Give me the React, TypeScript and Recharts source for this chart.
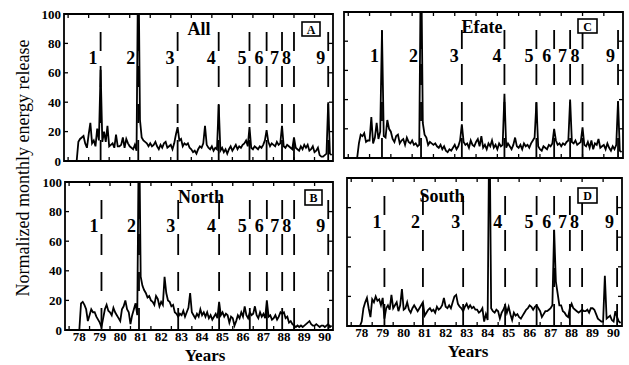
import React from 'react';
import { LineChart, Line, XAxis, YAxis, ReferenceLine, ReferenceArea, ReferenceDot } from 'recharts';

const SERIF = "'Liberation Serif', 'Times New Roman', Times, serif";

// monthly samples, Jan 1978 onwards (155 months)
const allValues = [
  0, 0, 0, 0, 0, 0, 13, 15, 16, 17, 12, 9,
  18, 26, 12, 14, 10, 22, 14, 62, 13, 20, 13, 24,
  10, 11, 12, 9, 18, 10, 10, 11, 16, 9, 15, 12,
  10, 9, 8, 11, 7, 150, 28, 16, 14, 13, 12, 10,
  12, 10, 11, 13, 10, 8, 11, 9, 12, 13, 9, 10,
  11, 8, 12, 18, 23, 14, 15, 10, 12, 11, 12, 9,
  8, 6, 7, 5, 8, 10, 9, 12, 24, 11, 9, 8,
  10, 7, 9, 8, 38, 7, 9, 6, 8, 5, 8, 10,
  7, 9, 11, 8, 10, 9, 11, 12, 14, 10, 23, 9,
  8, 10, 9, 8, 10, 9, 11, 14, 21, 13, 10, 12,
  11, 10, 13, 11, 12, 24, 10, 9, 11, 10, 9, 8,
  16, 9, 8, 7, 10, 8, 11, 9, 11, 7, 8, 10,
  6, 7, 9, 4, 3, 3, 4, 5, 40, 5, 4,
];

const efateValues = [
  0, 0, 0, 0, 0, 0, 10, 16, 15, 17, 11, 12,
  12, 28, 10, 14, 24, 13, 18, 87, 15, 14, 26, 20,
  18, 13, 11, 15, 16, 10, 12, 13, 9, 14, 11, 10,
  12, 9, 10, 8, 9, 150, 24, 16, 14, 9, 11, 10,
  9, 10, 8, 7, 9, 6, 8, 5, 4, 6, 5, 7,
  9, 6, 8, 12, 23, 11, 9, 10, 7, 12, 9, 8,
  11, 13, 8, 15, 7, 9, 6, 10, 8, 12, 7, 9,
  6, 10, 8, 9, 44, 7, 10, 8, 6, 9, 14, 8,
  7, 9, 6, 10, 8, 9, 7, 10, 12, 14, 38, 8,
  6, 5, 8, 7, 6, 9, 8, 10, 20, 12, 9, 10,
  8, 10, 9, 11, 12, 40, 11, 10, 12, 9, 10, 11,
  21, 9, 8, 11, 7, 12, 6, 10, 9, 13, 7, 8,
  9, 6, 10, 7, 5, 8, 6, 9, 39, 5, 4,
];

const northValues = [
  0, 0, 0, 0, 0, 0, 0, 18, 19, 17, 14, 6,
  10, 14, 12, 12, 9, 7, 5, 2, 8, 14, 17, 13,
  12, 10, 15, 12, 10, 8, 6, 14, 16, 20, 14, 12,
  4, 10, 14, 18, 10, 150, 36, 30, 27, 25, 22, 23,
  20, 19, 17, 23, 21, 16, 19, 17, 36, 25, 20, 19,
  16, 17, 12, 11, 9, 11, 10, 13, 9, 12, 15, 25,
  12, 10, 8, 11, 9, 14, 10, 12, 9, 12, 8, 10,
  7, 9, 11, 8, 19, 10, 12, 9, 11, 10, 5, 9,
  8, 3, 6, 10, 8, 12, 9, 16, 10, 8, 12, 10,
  11, 16, 10, 8, 12, 9, 11, 8, 20, 9, 10, 7,
  8, 10, 7, 9, 12, 11, 12, 8, 9, 5, 6, 4,
  3, 2, 3, 2, 3, 2, 3, 4, 5, 6, 4, 3,
  3, 4, 3, 2, 3, 3, 2, 3, 4, 2, 3,
];

const southValues = [
  0, 0, 0, 0, 0, 0, 3, 12, 16, 19, 12, 6,
  18, 16, 20, 17, 18, 14, 19, 5, 12, 14, 11, 21,
  12, 14, 16, 10, 14, 25, 11, 12, 16, 11, 9, 12,
  14, 12, 10, 12, 14, 16, 7, 9, 11, 12, 10, 11,
  9, 13, 11, 12, 14, 19, 13, 12, 14, 12, 16, 20,
  21, 15, 13, 12, 10, 13, 15, 12, 14, 12, 13, 11,
  11, 9, 10, 12, 3, 8, 4, 150, 12, 10, 9, 11,
  10, 5, 9, 11, 14, 9, 13, 8, 4, 9, 7, 8,
  6, 5, 7, 9, 11, 12, 14, 13, 11, 13, 14, 12,
  10, 6, 8, 10, 10, 11, 12, 14, 65, 30, 22, 14,
  14, 10, 9, 7, 6, 12, 15, 12, 11, 10, 9, 10,
  11, 10, 10, 11, 9, 12, 12, 11, 8, 5, 4, 3,
  3, 34, 5, 6, 7, 4, 3, 10, 6, 3, 2,
];

const eventYears = [79.583, 81.417, 83.333, 85.333, 86.833, 87.667, 88.417, 89.0, 90.667];
const eventLabels = ['1', '2', '3', '4', '5', '6', '7', '8', '9'];

const yearTicks = [78.5, 79.5, 80.5, 81.5, 82.5, 83.5, 84.5, 85.5, 86.5, 87.5, 88.5, 89.5, 90.5];
const yearLabels = ['78', '79', '80', '81', '82', '83', '84', '85', '86', '87', '88', '89', '90'];
const valueTicks = [0, 20, 40, 60, 80, 100];

const X_MIN = 77.8;
const X_MAX = 90.9;

interface Box { left: number; top: number; right: number; bottom: number }

interface PanelProps {
  values: number[];
  box: Box;
  showX: boolean;
  showY: boolean;
}

function Panel({ values, box, showX, showY }: PanelProps) {
  const data = values.map((v, i) => ({ t: 78 + i / 12, v }));
  const plotW = box.right - box.left;
  const plotH = box.bottom - box.top;
  const half = plotW / (X_MAX - X_MIN) / 2;

  const xTick = (props: any) => {
    const { x, index } = props;
    const y = box.bottom;
    const bx = x - half;
    return (
      <g>
        <line x1={bx} y1={y} x2={bx} y2={y - 4} stroke="#000" strokeWidth={1.3} />
        <line x1={bx} y1={y - plotH} x2={bx} y2={y - plotH + 4} stroke="#000" strokeWidth={1.3} />
        {showX && (
          <text x={x} y={y + 11} textAnchor="middle" fontFamily={SERIF} fontSize={13} fontWeight="bold" fill="#000">
            {yearLabels[index]}
          </text>
        )}
      </g>
    );
  };

  const yTick = (props: any) => {
    const { y, payload } = props;
    const x = box.left;
    return (
      <g>
        <line x1={x} y1={y} x2={x + 4} y2={y} stroke="#000" strokeWidth={1.3} />
        <line x1={x + plotW - 4} y1={y} x2={x + plotW} y2={y} stroke="#000" strokeWidth={1.3} />
        {showY && (
          <text x={x - 3} y={y + 4.5} textAnchor="end" fontFamily={SERIF} fontSize={13} fontWeight="bold" fill="#000">
            {payload.value}
          </text>
        )}
      </g>
    );
  };

  return (
    <div style={{ position: 'absolute', left: 0, top: 0 }}>
      <LineChart
        width={629}
        height={365}
        data={data}
        margin={{ left: box.left - 20, top: box.top, right: 629 - box.right, bottom: 365 - box.bottom - 20 }}
      >
        <XAxis
          dataKey="t"
          type="number"
          domain={[X_MIN, X_MAX]}
          allowDataOverflow
          ticks={yearTicks}
          interval={0}
          height={20}
          axisLine={false}
          tickLine={false}
          tick={xTick}
        />
        <YAxis
          type="number"
          domain={[0, 100]}
          allowDataOverflow
          ticks={valueTicks}
          interval={0}
          width={20}
          axisLine={false}
          tickLine={false}
          tick={yTick}
        />
        <ReferenceArea x1={X_MIN} x2={X_MAX} y1={0} y2={100} fill="none" stroke="#000" strokeWidth={1.8} />
        {eventYears.map((e) => (
          <ReferenceLine
            key={'ev' + e}
            segment={[{ x: e, y: 100 }, { x: e, y: 0 }]}
            stroke="#000"
            strokeWidth={1.8}
            strokeDasharray="0 18 19 15 21 17 19 17 40"
          />
        ))}
        {eventYears.map((e, k) => (
          <ReferenceDot
            key={'lb' + e}
            x={e}
            y={70}
            r={1}
            shape={(p: any) => (
              <text
                x={p.cx - 3}
                y={p.cy + 6}
                textAnchor="end"
                fontFamily={SERIF}
                fontSize={18}
                fontWeight="bold"
                fill="#000"
              >
                {eventLabels[k]}
              </text>
            )}
          />
        ))}
        <Line
          type="linear"
          dataKey="v"
          stroke="#000"
          strokeWidth={1.8}
          dot={false}
          isAnimationActive={false}
        />
      </LineChart>
    </div>
  );
}

function LetterBox({ x, y, w, h, letter }: { x: number; y: number; w: number; h: number; letter: string }) {
  return (
    <g>
      <rect x={x} y={y} width={w} height={h} fill="#fff" stroke="#000" strokeWidth={1.6} />
      <text
        x={x + w / 2}
        y={y + h / 2 + 4.5}
        textAnchor="middle"
        fontFamily={SERIF}
        fontSize={12}
        fontWeight="bold"
        fill="#000"
      >
        {letter}
      </text>
    </g>
  );
}

export default function App() {
  const titleStyle = { fontFamily: SERIF, fontSize: 18, fontWeight: 'bold' as const, fill: '#000' };
  return (
    <div style={{ position: 'absolute', left: 0, top: 0, width: 629, height: 365, background: '#fff', overflow: 'hidden' }}>
      <Panel values={allValues} box={{ left: 64, top: 14, right: 333, bottom: 161 }} showX={false} showY />
      <Panel values={efateValues} box={{ left: 344, top: 12, right: 623, bottom: 158 }} showX={false} showY={false} />
      <Panel values={northValues} box={{ left: 65, top: 182, right: 333, bottom: 330 }} showX showY />
      <Panel values={southValues} box={{ left: 347, top: 178, right: 622, bottom: 326 }} showX showY={false} />
      <svg width={629} height={365} style={{ position: 'absolute', left: 0, top: 0, pointerEvents: 'none' }}>
        <text x={199} y={35} textAnchor="middle" {...titleStyle}>All</text>
        <text x={482} y={33} textAnchor="middle" {...titleStyle}>Efate</text>
        <text x={201} y={203} textAnchor="middle" {...titleStyle}>North</text>
        <text x={442} y={202} textAnchor="middle" {...titleStyle}>South</text>
        <LetterBox x={302} y={22} w={18} h={14} letter="A" />
        <LetterBox x={578} y={19} w={19} h={14} letter="C" />
        <LetterBox x={305} y={190} w={17} h={15} letter="B" />
        <LetterBox x={578} y={188} w={19} h={15} letter="D" />
        <text
          transform="translate(23,168) rotate(-90)"
          textAnchor="middle"
          dominantBaseline="central"
          fontFamily={SERIF}
          fontSize={18}
          fill="#000"
        >
          Normalized monthly energy release
        </text>
        <text x={205} y={361} textAnchor="middle" {...titleStyle} fontSize={17}>Years</text>
        <text x={468} y={357} textAnchor="middle" {...titleStyle} fontSize={17}>Years</text>
      </svg>
    </div>
  );
}
